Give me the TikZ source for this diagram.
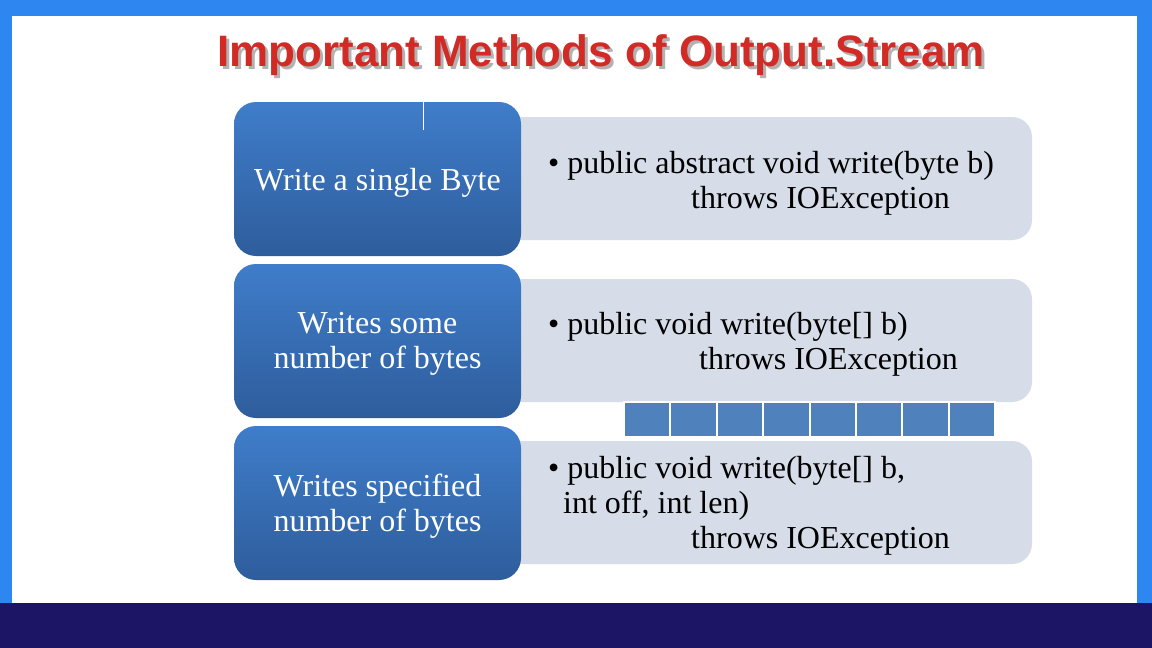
\documentclass[tikz,border=0pt]{standalone}
\usepackage{fontspec}
\setmainfont{Liberation Serif}
\newfontfamily\titlefont{Liberation Sans}
\begin{document}
\begin{tikzpicture}[x=1pt,y=-1pt,
  lbox/.style={rounded corners=22pt,top color=lefttop,bottom color=leftbot,draw=none},
  rbox/.style={rounded corners=20pt,fill=rightfill,draw=none},
  ltext/.style={text=white,font=\fontsize{32}{35}\selectfont,align=center,inner sep=0pt},
  rtext/.style={text=black,font=\fontsize{32}{35}\selectfont,align=left,anchor=west,inner sep=0pt},
  cell/.style={fill=cellblue,draw=white,line width=2pt}]
\definecolor{frameblue}{HTML}{2E86F0}
\definecolor{navy}{HTML}{1C1464}
\definecolor{lefttop}{HTML}{3F7DCA}
\definecolor{leftbot}{HTML}{2E5D9C}
\definecolor{rightfill}{HTML}{D6DDE9}
\definecolor{cellblue}{HTML}{4F81BD}
\definecolor{titlered}{HTML}{D22A24}
\useasboundingbox (0,0) rectangle (1152,648);
\fill[frameblue] (0,0) rectangle (1152,648);
\fill[white] (12,16) rectangle (1137,603);
\fill[navy] (0,603) rectangle (1152,648);
% title
\node[font=\titlefont\bfseries\fontsize{44}{50}\selectfont,text=gray!60] at (604,58) {Important Methods of Output.Stream};
\node[font=\titlefont\bfseries\fontsize{44}{50}\selectfont,text=titlered] (title) at (601,55) {Important Methods of Output.Stream};
% right boxes
\fill[rbox] (490,117) rectangle (1032,240);
\fill[rbox] (490,279) rectangle (1032,402);
\fill[rbox] (490,441) rectangle (1032,564);
% cells
\foreach \i in {0,...,7} {
  \fill[cell] (624+\i*46.4,402) rectangle ++(46.4,35);
}
% left boxes
\shade[lbox] (234,102) rectangle (521,256);
\shade[lbox] (234,264) rectangle (521,418);
\shade[lbox] (234,426) rectangle (521,580);
\draw[white,line width=1pt] (423,102) -- (423,130);
\node[ltext] (l1) at (377.5,183) {Write a single Byte};
\node[ltext] (l2) at (377.5,344) {Writes some\\number of bytes};
\node[ltext] (l3) at (377.5,506) {Writes specified\\number of bytes};
\node[rtext] (r1) at (548,183) {\textbullet\ public abstract void write(byte b)\\\hspace{143pt}throws IOException};
\node[rtext] (r2) at (548,344) {\textbullet\ public void write(byte[] b)\\\hspace{151pt}throws IOException};
\node[rtext] (r3) at (548,506) {\textbullet\ public void write(byte[] b,\\\hspace{15pt}int off, int len)\\\hspace{143pt}throws IOException};
\end{tikzpicture}
\end{document}
